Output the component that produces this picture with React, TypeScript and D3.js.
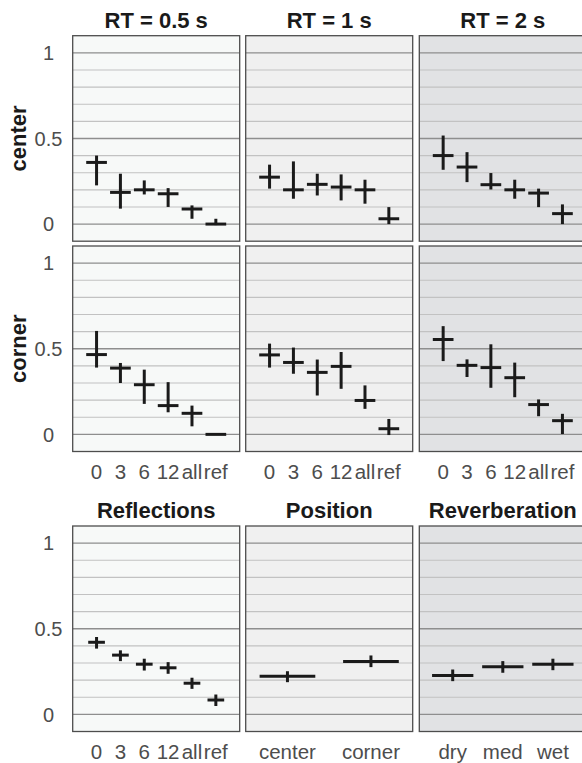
import React from 'react';
import * as d3 from 'd3';

// categories / labels
const reflectionLevels = ['0', '3', '6', '12', 'all', 'ref'];
const rtLabels = ['RT = 0.5 s', 'RT = 1 s', 'RT = 2 s'];
const positionLabels = ['center', 'corner'];
const reverbLabels = ['dry', 'med', 'wet'];
const summaryTitles = ['Reflections', 'Position', 'Reverberation'];
const yTicks = [0, 0.5, 1];
const yGrid = [0, 0.1, 0.2, 0.3, 0.4, 0.5, 0.6, 0.7, 0.8, 0.9, 1];

// center position, one row per RT
const centerMean = [
  [0.36, 0.185, 0.2, 0.177, 0.088, 0.0],
  [0.274, 0.2, 0.232, 0.216, 0.2, 0.031],
  [0.4, 0.333, 0.23, 0.2, 0.181, 0.061],
];
const centerLow = [
  [0.226, 0.09, 0.173, 0.1, 0.031, -0.006],
  [0.207, 0.148, 0.167, 0.138, 0.119, 0.0],
  [0.317, 0.245, 0.202, 0.148, 0.099, 0.0],
];
const centerHigh = [
  [0.4, 0.294, 0.255, 0.21, 0.109, 0.031],
  [0.347, 0.366, 0.294, 0.29, 0.259, 0.099],
  [0.517, 0.42, 0.298, 0.259, 0.207, 0.115],
];

// corner position
const cornerMean = [
  [0.466, 0.387, 0.29, 0.168, 0.123, 0.0],
  [0.464, 0.42, 0.362, 0.397, 0.198, 0.033],
  [0.554, 0.403, 0.39, 0.331, 0.174, 0.08],
];
const cornerLow = [
  [0.39, 0.3, 0.178, 0.129, 0.047, 0.0],
  [0.39, 0.354, 0.227, 0.266, 0.149, -0.004],
  [0.428, 0.335, 0.272, 0.217, 0.106, 0.002],
];
const cornerHigh = [
  [0.604, 0.417, 0.378, 0.305, 0.168, 0.0],
  [0.53, 0.507, 0.437, 0.481, 0.286, 0.09],
  [0.632, 0.438, 0.526, 0.419, 0.204, 0.12],
];

// marginal means
const reflMean = [0.421, 0.346, 0.293, 0.272, 0.182, 0.084];
const reflLow = [0.384, 0.311, 0.256, 0.237, 0.149, 0.049];
const reflHigh = [0.452, 0.374, 0.325, 0.305, 0.214, 0.116];
const posMean = [0.223, 0.309];
const posLow = [0.188, 0.276];
const posHigh = [0.252, 0.344];
const revMean = [0.227, 0.278, 0.293];
const revLow = [0.194, 0.243, 0.258];
const revHigh = [0.262, 0.311, 0.325];

const W = 582;
const H = 763;
const colX = [72.7, 245.7, 419.3];
const rowY = [35.7, 246, 526];
const panelW = 167;
const panelH = 205.5;
const panelFill = ['#f7f9f8', '#f0f0f0', '#e1e2e4'];
const font = '"Liberation Sans", Arial, Helvetica, sans-serif';

type PanelProps = {
  x0: number;
  y0: number;
  fill: string;
  cats: string[];
  mean: number[];
  low: number[];
  high: number[];
  pad: number;
  barW: number;
  showX: boolean;
  showY: boolean;
  title?: string;
};

const Panel = ({ x0, y0, fill, cats, mean, low, high, pad, barW, showX, showY, title }: PanelProps) => {
  const x = d3.scalePoint<string>().domain(cats).range([x0, x0 + panelW]).padding(pad);
  const y = d3.scaleLinear().domain([-0.1, 1.1]).range([y0 + panelH, y0]);
  return (
    <g>
      <rect x={x0} y={y0} width={panelW} height={panelH} fill={fill} />
      {yGrid.map((v) => {
        const major = Math.abs(v * 2 - Math.round(v * 2)) < 1e-6;
        return (
          <line
            key={v}
            x1={x0}
            x2={x0 + panelW}
            y1={y(v)}
            y2={y(v)}
            stroke={major ? '#8e8e8e' : '#c2c2c2'}
            strokeWidth={major ? 1.4 : 1.1}
          />
        );
      })}
      <rect x={x0} y={y0} width={panelW} height={panelH} fill="none" stroke="#4d4d4d" strokeWidth={1.3} />
      {cats.map((c, i) => {
        const cx = x(c) as number;
        return (
          <g key={c} stroke="#1a1a1a" strokeWidth={3}>
            {high[i] - low[i] > 0.001 && <line x1={cx} x2={cx} y1={y(low[i])} y2={y(high[i])} />}
            <line x1={cx - barW / 2} x2={cx + barW / 2} y1={y(mean[i])} y2={y(mean[i])} />
          </g>
        );
      })}
      {showX &&
        cats.map((c) => (
          <text
            key={'xl' + c}
            x={x(c) as number}
            y={y0 + panelH + 27}
            textAnchor="middle"
            fontSize={20.5}
            fill="#4d4d4d"
            fontFamily={font}
          >
            {c}
          </text>
        ))}
      {showY &&
        yTicks.map((t) => (
          <text
            key={'yl' + t}
            x={48.5}
            y={y(t)}
            dy="0.36em"
            textAnchor="middle"
            fontSize={20}
            fill="#4d4d4d"
            fontFamily={font}
          >
            {t}
          </text>
        ))}
      {title && (
        <text
          x={x0 + panelW / 2}
          y={y0 - 8}
          textAnchor="middle"
          fontSize={22}
          fontWeight="bold"
          fill="#1a1a1a"
          fontFamily={font}
        >
          {title}
        </text>
      )}
    </g>
  );
};

export default function App() {
  const rowLabels = ['center', 'corner'];
  return (
    <svg width={W} height={H} style={{ position: 'absolute', left: 0, top: 0, background: '#fff' }}>
      <rect width={W} height={H} fill="#fff" />
      {[centerMean, cornerMean].map((rowMean, r) => {
        const rowLow = r === 0 ? centerLow : cornerLow;
        const rowHigh = r === 0 ? centerHigh : cornerHigh;
        return rtLabels.map((rt, c) => (
          <Panel
            key={rt + r}
            x0={colX[c]}
            y0={rowY[r]}
            fill={panelFill[c]}
            cats={reflectionLevels}
            mean={rowMean[c]}
            low={rowLow[c]}
            high={rowHigh[c]}
            pad={1}
            barW={20.7}
            showX={r === 1}
            showY={c === 0}
            title={r === 0 ? rt : undefined}
          />
        ));
      })}
      {rowLabels.map((lab, r) => (
        <text
          key={lab}
          transform={`translate(26,${rowY[r] + panelH / 2}) rotate(-90)`}
          textAnchor="middle"
          fontSize={22}
          fontWeight="bold"
          fill="#1a1a1a"
          fontFamily={font}
        >
          {lab}
        </text>
      ))}
      <Panel
        x0={colX[0]}
        y0={rowY[2]}
        fill={panelFill[0]}
        cats={reflectionLevels}
        mean={reflMean}
        low={reflLow}
        high={reflHigh}
        pad={1}
        barW={16.7}
        showX
        showY
        title={summaryTitles[0]}
      />
      <Panel
        x0={colX[1]}
        y0={rowY[2]}
        fill={panelFill[1]}
        cats={positionLabels}
        mean={posMean}
        low={posLow}
        high={posHigh}
        pad={0.5}
        barW={55.7}
        showX
        showY={false}
        title={summaryTitles[1]}
      />
      <Panel
        x0={colX[2]}
        y0={rowY[2]}
        fill={panelFill[2]}
        cats={reverbLabels}
        mean={revMean}
        low={revLow}
        high={revHigh}
        pad={0.667}
        barW={41.3}
        showX
        showY={false}
        title={summaryTitles[2]}
      />
    </svg>
  );
}
